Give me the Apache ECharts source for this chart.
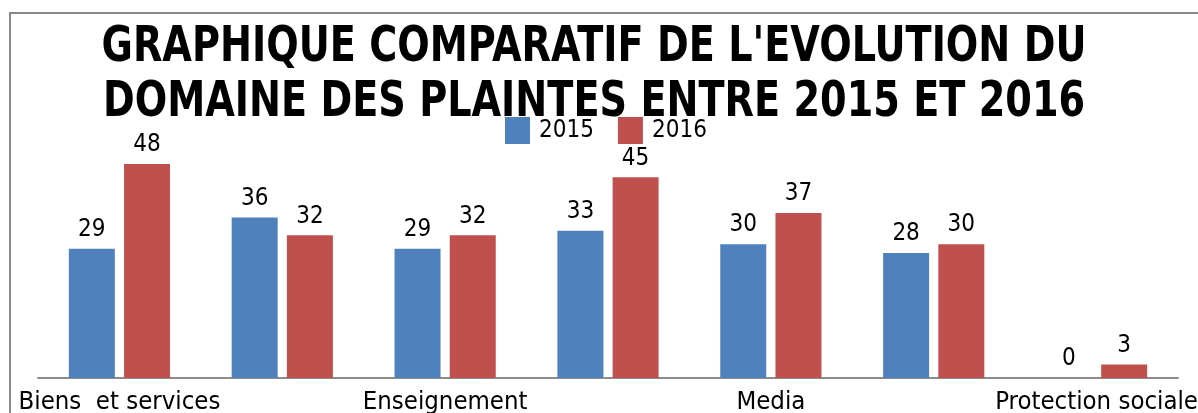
<!DOCTYPE html>
<html>
<head>
<meta charset="utf-8">
<style>
    html, body { margin: 0; padding: 0; background: #fff; }
    #echart { width: 1198px; height: 413px; }
</style>
</head>
<body>
<div id="echart"></div>
<script src="https://cdn.jsdelivr.net/npm/echarts@6/dist/echarts.min.js"></script>
<script>
    // donnees
    var categories = ['Biens  et services', '', 'Enseignement', '', 'Media', '', 'Protection sociale'];
    var values2015 = [29, 36, 29, 33, 30, 28, 0];
    var values2016 = [48, 32, 32, 45, 37, 30, 3];
    var seriesNames = ['2015', '2016'];
    var titre = "GRAPHIQUE COMPARATIF DE L'EVOLUTION DU\nDOMAINE DES PLAINTES ENTRE 2015 ET 2016";

    var font = 'DejaVu Sans Condensed';
    var app = echarts.init(document.getElementById('echart'));

    var option = {
        animation: false,
        textStyle: { fontFamily: font },
        legend: {
            data: seriesNames,
            top: 112,
            left: 500,
            itemWidth: 25,
            itemHeight: 27,
            itemGap: 24,
            icon: 'rect',
            textStyle: { fontFamily: font, fontSize: 24, color: '#000', padding: [0, 0, 0, 4] }
        },
        graphic: [
            {
                type: 'rect',
                shape: { x: 10, y: 13, width: 1200, height: 420 },
                style: { fill: 'none', stroke: '#888', lineWidth: 2 },
                z: -1
            },
            {
                // titre un peu resserre pour garder la largeur de l'original
                type: 'text',
                x: 594,
                y: 21,
                scaleX: 0.85,
                style: {
                    text: titre,
                    fill: '#000',
                    font: 'bold 50px "DejaVu Sans Condensed"',
                    lineHeight: 55,
                    align: 'center'
                }
            }
        ],
        grid: { left: 38, right: 20, top: 155, bottom: 35, outerBoundsMode: 'none' },
        xAxis: {
            type: 'category',
            data: categories,
            axisLine: { lineStyle: { color: '#8c8c8c', width: 2 } },
            axisTick: { show: false },
            axisLabel: { interval: 0, color: '#000', fontFamily: font, fontSize: 25.5, margin: 11 }
        },
        yAxis: {
            type: 'value',
            min: 0,
            max: 50,
            show: false
        },
        series: [
            {
                name: seriesNames[0],
                type: 'bar',
                data: values2015,
                barWidth: 46,
                barGap: '20%',
                itemStyle: { color: '#4f81bd' },
                label: { show: true, position: 'top', distance: 7, color: '#000', fontFamily: font, fontSize: 24 }
            },
            {
                name: seriesNames[1],
                type: 'bar',
                data: values2016,
                barWidth: 46,
                itemStyle: { color: '#c0504d' },
                label: { show: true, position: 'top', distance: 7, color: '#000', fontFamily: font, fontSize: 24 }
            }
        ]
    };
    app.setOption(option);
</script>
</body>
</html>
